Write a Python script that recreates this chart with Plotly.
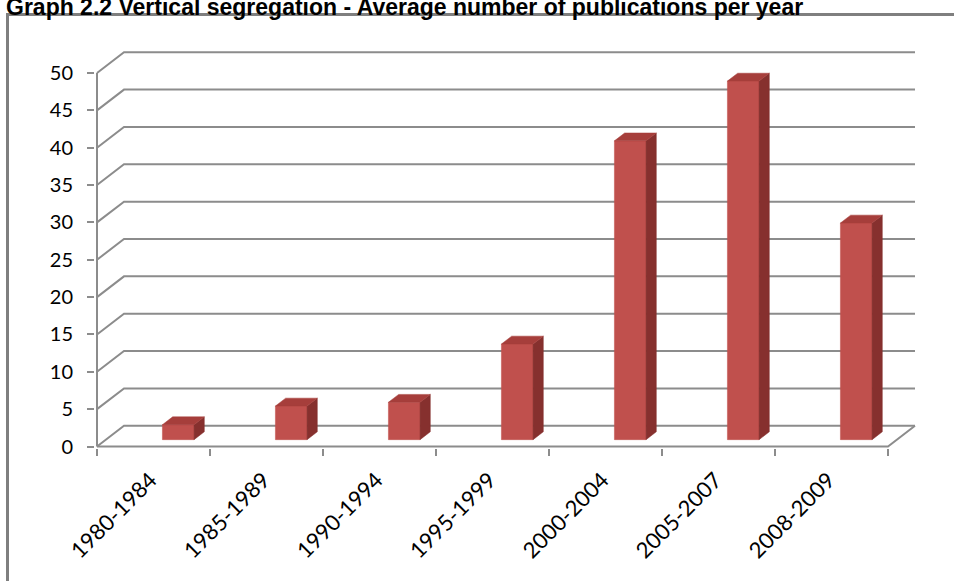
import plotly.graph_objects as go

# Average number of publications per year, by period
categories = ["1980-1984", "1985-1989", "1990-1994", "1995-1999",
              "2000-2004", "2005-2007", "2008-2009"]
values = [2, 4.5, 5, 12.8, 40, 48, 29]
y_ticks = list(range(0, 55, 5))

W, H = 954, 581

# Plot-area edges in pixels and the pixel scale of the axes
L, R, T, B = 95, 925, 40, 448
ORIGIN_X, PX_PER_CAT = 97, 113.0
ORIGIN_Y, PX_PER_UNIT = 446.5, 7.47

x_range = [(L - ORIGIN_X) / PX_PER_CAT, (R - ORIGIN_X) / PX_PER_CAT]
y_range = [(ORIGIN_Y - B) / PX_PER_UNIT, (ORIGIN_Y - T) / PX_PER_UNIT]

# Oblique "3-D" depth of the walls, in data units
DX = 27 / PX_PER_CAT
DY = 20.75 / PX_PER_UNIT

# Bar placement inside each category (depth 0 = front, 1 = back wall)
BAR_LEFT, BAR_W = 0.50, 0.28
BAR_D0, BAR_D1 = 0.33, 0.71

GRID = "#8c8c8c"
FRONT = "#c0504d"
SIDE = "#86302e"
TOP = "#a63e3b"

n = len(categories)
fig = go.Figure()

# Back wall gridlines, left wall diagonals and floor
gx, gy = [], []
for v in y_ticks:
    gx += [0, DX, n + DX, None]
    gy += [v, v + DY, v + DY, None]
# floor front edge and right edge
gx += [0, n, n + DX, None]
gy += [0, 0, DY, None]
# vertical value axis
gx += [0, 0, None]
gy += [0, y_ticks[-1], None]
fig.add_trace(go.Scatter(x=gx, y=gy, mode="lines",
                         line=dict(color=GRID, width=2),
                         hoverinfo="skip", showlegend=False))


def poly(xs, ys, color):
    fig.add_trace(go.Scatter(x=xs + [xs[0]], y=ys + [ys[0]], mode="lines",
                             fill="toself", fillcolor=color,
                             line=dict(color=color, width=0.5),
                             hoverinfo="skip", showlegend=False))


ddx = (BAR_D1 - BAR_D0) * DX
ddy = (BAR_D1 - BAR_D0) * DY
for i, val in enumerate(values):
    x0 = i + BAR_LEFT + BAR_D0 * DX
    x1 = x0 + BAR_W
    y0 = BAR_D0 * DY
    y1 = y0 + val
    # front face
    poly([x0, x1, x1, x0], [y0, y0, y1, y1], FRONT)
    # right side face
    poly([x1, x1 + ddx, x1 + ddx, x1], [y0, y0 + ddy, y1 + ddy, y1], SIDE)
    # top face
    poly([x0, x1, x1 + ddx, x0 + ddx], [y1, y1, y1 + ddy, y1 + ddy], TOP)

font_family = "Lato, Carlito, Calibri, sans-serif"

fig.update_xaxes(
    range=x_range, showgrid=False, zeroline=False, showline=False,
    tickmode="array", tickvals=[i + 0.5 for i in range(n)], ticktext=categories,
    tickangle=-45, ticks="", tickfont=dict(family=font_family, size=22, color="#000000"),
    ticklabelstandoff=14, ticklabelshift=-3,
    minor=dict(tickmode="array", tickvals=list(range(n + 1)), ticks="outside",
               ticklen=7, tickwidth=2, tickcolor=GRID, showgrid=False),
    fixedrange=True,
)
fig.update_yaxes(
    range=y_range, showgrid=False, zeroline=False, showline=False,
    tickmode="array", tickvals=y_ticks, ticks="outside", ticklen=7,
    tickwidth=2, tickcolor=GRID,
    tickfont=dict(family=font_family, size=20, color="#000000"),
    ticklabelstandoff=10, fixedrange=True,
)


def px_to_paper_x(px):
    return (px - L) / (R - L)


def px_to_paper_y(py):
    return (B - py) / (B - T)


# Outer chart frame (runs off the right and bottom edges)
fig.add_shape(type="rect", xref="paper", yref="paper",
              x0=px_to_paper_x(7.5), x1=px_to_paper_x(W + 60),
              y0=px_to_paper_y(H + 60), y1=px_to_paper_y(14.5),
              line=dict(color="#7f7f7f", width=3), layer="below")

fig.update_layout(
    width=W, height=H,
    margin=dict(l=L, r=W - R, t=T, b=H - B, autoexpand=False),
    paper_bgcolor="white", plot_bgcolor="rgba(0,0,0,0)",
    title=dict(text="<b>Graph 2.2 Vertical segregation - Average number of publications per year</b>",
               font=dict(family="Liberation Sans, Arial, sans-serif", size=23, color="#000000"),
               x=6 / W, xanchor="left", xref="container",
               y=(H - 15) / H, yanchor="bottom", yref="container"),
    showlegend=False,
)

fig.write_html("out.html")
